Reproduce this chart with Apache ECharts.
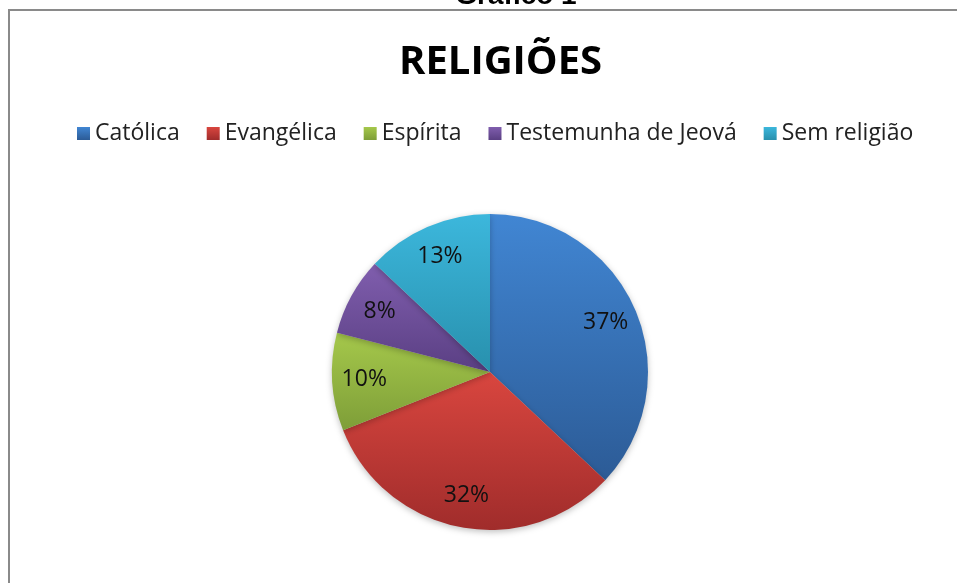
<!DOCTYPE html>
<html>
<head>
<meta charset="utf-8">
<script src="https://cdn.jsdelivr.net/npm/echarts@6/dist/echarts.min.js"></script>
<style>
html,body{margin:0;padding:0;background:#fff;}
#chart{width:957px;height:583px;}
</style>
</head>
<body>
<div id="chart"></div>
<script>
const categories = ['Católica', 'Evangélica', 'Espírita', 'Testemunha de Jeová', 'Sem religião'];
const values = [37, 32, 10, 8, 13];
const topColors = ['#4186D3', '#D9463F', '#A5C84B', '#805EAE', '#3CB7DC'];
const bottomColors = ['#2C5B96', '#A02C2B', '#7E9E38', '#5A3F83', '#2890AD'];

const FONT = '"Open Sans", "Noto Sans", sans-serif';
const chart = echarts.init(document.getElementById('chart'));

const data = categories.map((name, i) => ({
  name: name,
  value: values[i],
  itemStyle: {
    color: new echarts.graphic.LinearGradient(0, 0, 0, 1, [
      { offset: 0, color: topColors[i] },
      { offset: 1, color: bottomColors[i] }
    ])
  }
}));

const labelData = categories.map((name, i) => ({ name: name, value: values[i] }));

chart.setOption({
  backgroundColor: '#fff',
  animation: false,
  title: {
    text: 'RELIGIÕES',
    left: 394,
    top: 38,
    textStyle: { fontFamily: FONT, fontWeight: 'bold', fontSize: 40, color: '#000' }
  },
  legend: {
    data: categories,
    top: 117,
    left: 72,
    itemWidth: 13,
    itemHeight: 13,
    itemGap: 27,
    icon: 'rect',
    textStyle: { fontFamily: FONT, fontSize: 23, color: '#222' }
  },
  graphic: [
    {
      type: 'rect',
      shape: { x: 9, y: 10, width: 960, height: 600 },
      style: { fill: 'none', stroke: '#8a8a8a', lineWidth: 2 },
      silent: true
    },
    {
      type: 'text',
      x: 516,
      y: -18,
      style: {
        text: 'Gráfico 1',
        font: 'bold 28px Arial, "Liberation Sans", sans-serif',
        fill: '#000',
        textAlign: 'center',
        textVerticalAlign: 'top'
      },
      silent: true
    }
  ],
  series: [
    {
      type: 'pie',
      center: [490, 372],
      radius: 158,
      startAngle: 90,
      clockwise: true,
      silent: true,
      label: { show: false },
      labelLine: { show: false },
      itemStyle: {
        shadowBlur: 6,
        shadowColor: 'rgba(0,0,0,0.25)',
        shadowOffsetY: 2
      },
      data: data
    },
    {
      type: 'pie',
      center: [490, 372],
      radius: [88, 158],
      startAngle: 90,
      clockwise: true,
      silent: true,
      itemStyle: { color: 'rgba(0,0,0,0)' },
      label: {
        show: true,
        position: 'inside',
        formatter: p => p.value + '%',
        fontFamily: FONT,
        fontSize: 23,
        color: '#111'
      },
      labelLine: { show: false },
      data: labelData
    }
  ]
});
</script>
</body>
</html>
